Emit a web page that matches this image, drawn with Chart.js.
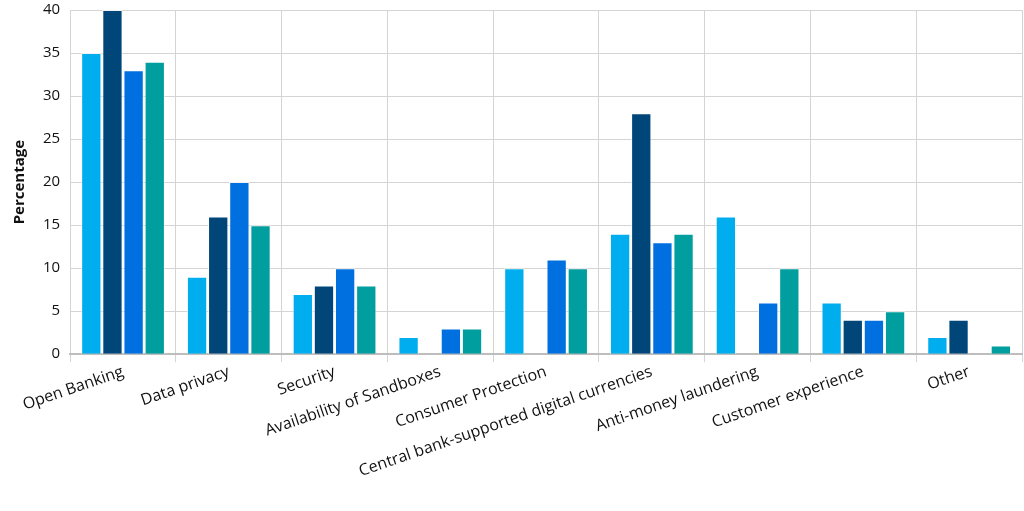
<!DOCTYPE html>
<html>
<head>
<meta charset="utf-8">
<script src="https://cdn.jsdelivr.net/npm/chart.js@4.4.1/dist/chart.umd.min.js"></script>
<style>
  html, body { margin: 0; padding: 0; background: #fff; overflow: hidden; }
  #wrap { width: 1024px; height: 520px; margin-top: -9px; }
</style>
</head>
<body>
<div id="wrap"><canvas id="c"></canvas></div>
<script>
const categories = ['Open Banking', 'Data privacy', 'Security', 'Availability of Sandboxes',
  'Consumer Protection', 'Central bank-supported digital currencies', 'Anti-money laundering',
  'Customer experience', 'Other'];
// four unnamed series, null = no bar
const seriesA = [35, 9, 7, 2, 10, 14, 16, 6, 2];
const seriesB = [40, 16, 8, null, null, 28, null, 4, 4];
const seriesC = [33, 20, 10, 3, 11, 13, 6, 4, null];
const seriesD = [34, 15, 8, 3, 10, 14, 10, 5, 1];
const yTicks = [0, 5, 10, 15, 20, 25, 30, 35, 40];

const COLORS = ['#00AEEF', '#004678', '#0070E0', '#009E9E'];
const FONT = '"Open Sans", Lato, sans-serif';

const mk = (data, i) => ({
  data,
  backgroundColor: COLORS[i],
  borderColor: 'rgba(255,255,255,0.7)',
  borderWidth: 1,
  categoryPercentage: 0.8,
  barPercentage: 0.96
});

new Chart(document.getElementById('c'), {
  type: 'bar',
  data: {
    labels: categories,
    datasets: [seriesA, seriesB, seriesC, seriesD].map(mk)
  },
  options: {
    responsive: true,
    maintainAspectRatio: false,
    animation: false,
    layout: { padding: { top: 0, right: 2, bottom: 30, left: 7 } },
    plugins: { legend: { display: false }, tooltip: { enabled: false } },
    scales: {
      x: {
        grid: { color: '#d4d4d4', lineWidth: 1, offset: true, tickLength: 8, drawOnChartArea: true },
        border: { color: '#bdbdbd', width: 2 },
        ticks: {
          color: '#111',
          font: { family: FONT, size: 16 },
          minRotation: 19, maxRotation: 19,
          autoSkip: false, padding: 0
        }
      },
      y: {
        min: 0, max: 40,
        afterBuildTicks: axis => { axis.ticks = yTicks.map(v => ({ value: v })); },
        grid: { color: '#d4d4d4', lineWidth: 1, drawTicks: false },
        border: { display: false },
        ticks: { color: '#111', font: { family: FONT, size: 15 }, padding: 10 },
        title: {
          display: true, text: 'Percentage', color: '#111',
          font: { family: FONT, size: 15, weight: 'bold' }, padding: { bottom: 4 }
        }
      }
    }
  }
});
</script>
</body>
</html>
